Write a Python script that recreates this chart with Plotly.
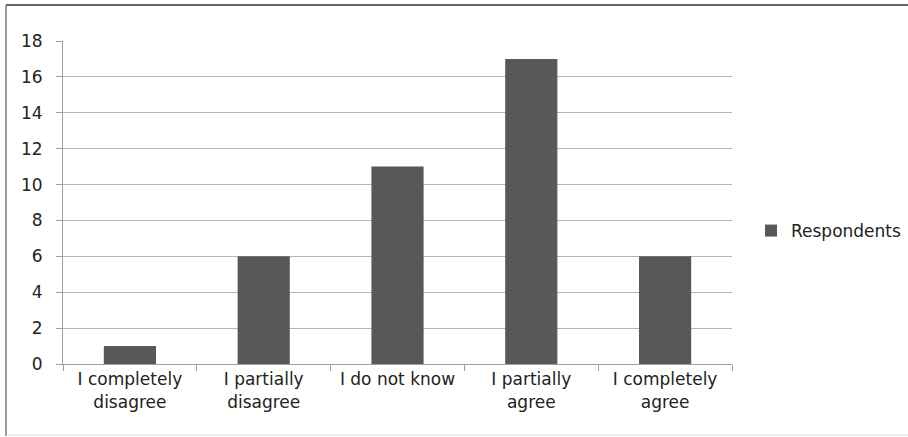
import plotly.graph_objects as go

categories = ["I completely<br>disagree", "I partially<br>disagree", "I do not know",
              "I partially<br>agree", "I completely<br>agree"]
respondents = [1, 6, 11, 17, 6]
y_ticks = [0, 2, 4, 6, 8, 10, 12, 14, 16, 18]

W, H = 908, 437
L, R, T, B = 63, 176, 41, 73
pw, ph = W - L - R, H - T - B

def px(x):
    return (x - L) / pw

def py(y):
    return (H - B - y) / ph

FONT = "DejaVu Sans, Verdana, sans-serif"

fig = go.Figure()
fig.add_trace(go.Bar(
    x=categories, y=respondents, name="Respondents",
    marker=dict(color="#585858", line=dict(width=0)),
    width=0.39, showlegend=True,
))

fig.update_layout(
    width=W, height=H,
    margin=dict(l=L, r=R, t=T, b=B, autoexpand=False),
    paper_bgcolor="white", plot_bgcolor="white",
    font=dict(family=FONT, size=17, color="#222222"),
    showlegend=True,
    legend=dict(x=px(751), y=py(231), xanchor="left", yanchor="middle",
                font=dict(family=FONT, size=17, color="#222222"), bgcolor="rgba(0,0,0,0)"),
    xaxis=dict(
        type="category", tickson="boundaries", ticks="outside", ticklen=6,
        tickcolor="#a0a0a0", showline=True, linecolor="#a0a0a0", linewidth=1,
        showgrid=False, tickfont=dict(family=FONT, size=17, color="#222222"),
    ),
    yaxis=dict(
        range=[0, 18], tickvals=y_ticks, ticks="outside", ticklen=6,
        tickcolor="#a0a0a0", showline=True, linecolor="#a0a0a0", linewidth=1,
        showgrid=True, gridcolor="#b4b4b4", gridwidth=1, zeroline=False,
        ticklabelstandoff=10,
        tickfont=dict(family=FONT, size=17, color="#222222"),
    ),
    shapes=[
        dict(type="line", xref="paper", yref="paper", x0=px(6), x1=px(910), y0=py(5), y1=py(5),
             line=dict(color="#333333", width=1.5)),
        dict(type="line", xref="paper", yref="paper", x0=px(6), x1=px(6), y0=py(5), y1=py(436),
             line=dict(color="#777777", width=1.5)),
        dict(type="line", xref="paper", yref="paper", x0=px(6), x1=px(910), y0=py(435), y1=py(435),
             line=dict(color="#e0e0e0", width=1)),
    ],
)

fig.write_html("out.html")
